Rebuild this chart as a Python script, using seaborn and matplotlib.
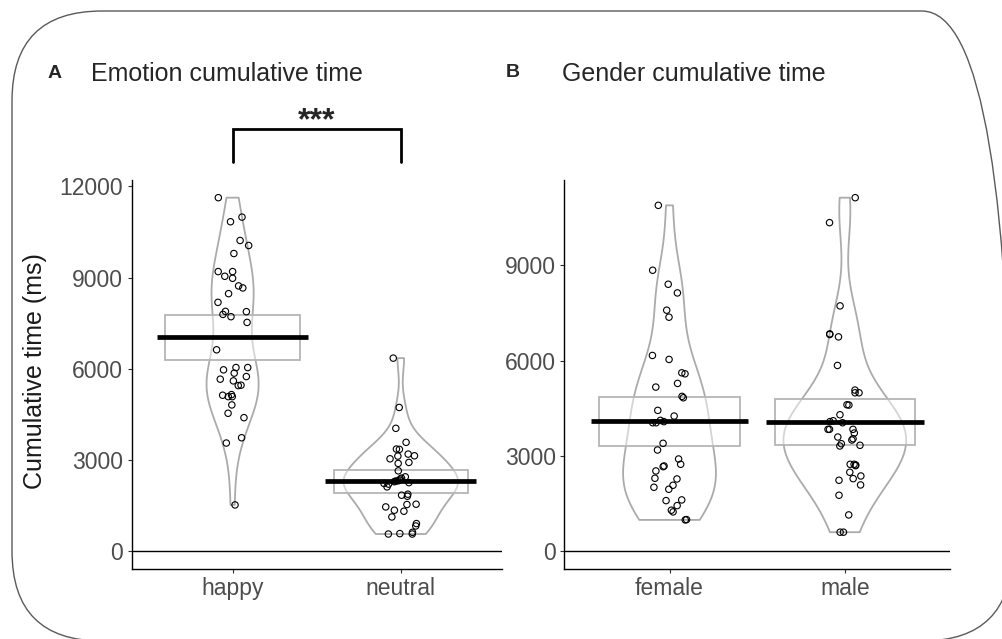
import numpy as np
import pandas as pd
import matplotlib
matplotlib.use("Agg")
import matplotlib.pyplot as plt
import seaborn as sns
from matplotlib.patches import FancyBboxPatch

# ---------------- data (ms) ----------------
emotion_levels = ["happy", "neutral"]
gender_levels = ["female", "male"]

happy = [11628, 10989, 10837, 10221, 10056, 9792, 9198, 9198, 9044, 8978,
         8727, 8661, 8473, 8187, 7890, 7880, 7791, 7715, 7527, 6627,
         6043, 6043, 5968, 5859, 5747, 5661, 5605, 5463, 5450, 5153,
         5133, 5087, 5087, 4814, 4540, 4395, 3735, 3561, 1527]
neutral = [6353, 4731, 4045, 3584, 3363, 3353, 3198, 3132, 3142, 3043,
           2924, 2891, 2647, 2450, 2407, 2318, 2232, 2120, 1879, 1846,
           1813, 1550, 1540, 1461, 1352, 1319, 1131, 913, 834, 626,
           584, 570, 570, 2290, 2340, 2260, 2380, 2210, 2310]
female = [10884, 8842, 8402, 8129, 7586, 7366, 6162, 6037, 5585, 5616,
          5283, 5167, 4831, 4875, 4435, 4256, 4046, 4046, 3399, 3188,
          2905, 2739, 2686, 2664, 2529, 2299, 2277, 2079, 2016, 1953,
          1596, 1618, 1439, 1241, 1294, 989, 999, 4080, 4120]
male = [11125, 10340, 7721, 6841, 6747, 6822, 5848, 5073, 4988, 4988,
        4611, 4602, 4297, 4108, 4046, 3838, 3838, 3838, 3722, 3596,
        3502, 3543, 3336, 3386, 3314, 2695, 2739, 2739, 2717, 2488,
        2371, 2236, 2287, 2089, 1765, 1146, 603, 603, 4080]

yticks_A = [0, 3000, 6000, 9000, 12000]
yticks_B = [0, 3000, 6000, 9000]
ylim_A = (-581, 12209)
ylim_B = (-556, 11681)
bracket_y = (12792, 13880)
sig_label = "***"

df_A = pd.DataFrame({"cond": ["happy"] * len(happy) + ["neutral"] * len(neutral),
                     "time": happy + neutral})
df_B = pd.DataFrame({"cond": ["female"] * len(female) + ["male"] * len(male),
                     "time": female + male})

# ---------------- style ----------------
sns.set_style("white")
plt.rcParams["font.family"] = ["Liberation Sans", "DejaVu Sans"]

VIOLIN_C = "#ABABAB"
BOX_C = "#B5B5B5"
TICK_C = "#4D4D4D"

W, H = 1002, 639
fig = plt.figure(figsize=(W / 100, H / 100), dpi=100)
axA = fig.add_axes([0.1314, 0.1095, 0.3693, 0.6088])
axB = fig.add_axes([0.5632, 0.1095, 0.3849, 0.6088])


def pirate(ax, df, order, width, seed, ylim, yticks):
    sns.violinplot(data=df, x="cond", y="time", order=order, ax=ax,
                   fill=False, color=VIOLIN_C, linewidth=1.3, inner=None,
                   cut=0, width=width, bw_method="silverman", bw_adjust=0.85,
                   density_norm="area", zorder=1)
    stats = df.groupby("cond")["time"].agg(["mean", "std", "count"]).loc[order]
    for i, (m, s, n) in enumerate(stats.itertuples(index=False)):
        half = 1.96 * s / np.sqrt(n)
        ax.bar(i, 2 * half, bottom=m - half, width=0.8,
               facecolor=(1, 1, 1, 0.5), edgecolor=BOX_C, linewidth=1.3, zorder=2)
        ax.hlines(m, i - 0.45, i + 0.45, color="black", linewidth=3.4, zorder=3)
    np.random.seed(seed)
    sns.stripplot(data=df, x="cond", y="time", order=order, ax=ax,
                  jitter=0.1, marker="o", size=4.6, color="none",
                  edgecolor="black", linewidth=0.8, zorder=4)
    ax.axhline(0, color="black", linewidth=1.0, zorder=0)
    ax.set_xlim(-0.6, 1.6)
    ax.set_ylim(*ylim)
    ax.set_yticks(yticks)
    ax.set_yticklabels([str(t) for t in yticks])
    ax.set_xlabel("")
    ax.set_ylabel("")
    for sp in ["top", "right"]:
        ax.spines[sp].set_visible(False)
    for sp in ["left", "bottom"]:
        ax.spines[sp].set_color("black")
        ax.spines[sp].set_linewidth(1.0)
    ax.tick_params(axis="both", which="major", length=3, width=0.8,
                   color="#333333", labelcolor=TICK_C, labelsize=16.5,
                   left=True, bottom=True, direction="out")
    ax.tick_params(axis="y", pad=3)
    ax.tick_params(axis="x", pad=3)


pirate(axA, df_A, emotion_levels, 0.68, 7, ylim_A, yticks_A)
pirate(axB, df_B, gender_levels, 0.70, 11, ylim_B, yticks_B)

axA.set_ylabel("Cumulative time (ms)", fontsize=18, color="#1A1A1A")
axA.yaxis.set_label_coords(-0.229, 0.509)

# significance bracket
axA.plot([0, 0, 1, 1], [bracket_y[0], bracket_y[1], bracket_y[1], bracket_y[0]],
         color="black", linewidth=2.0, clip_on=False, solid_joinstyle="miter")
axA.text(0.5, bracket_y[1] - 230, sig_label, ha="center", va="bottom",
         fontsize=23, fontweight="bold", clip_on=False)

# panel letters and titles (figure pixel positions)
fig.text(48 / W, 1 - 78 / H, "A", fontsize=14, fontweight="bold", ha="left", va="baseline")
fig.text(91 / W, 1 - 81 / H, "Emotion cumulative time", fontsize=18, ha="left", va="baseline")
fig.text(506 / W, 1 - 77 / H, "B", fontsize=14, fontweight="bold", ha="left", va="baseline")
fig.text(562 / W, 1 - 81 / H, "Gender cumulative time", fontsize=18, ha="left", va="baseline")

# rounded outer border in figure fraction (right and bottom edges run past the canvas)
x0, x1, ytop, ybot, rad = 12, 1012, 11, 641, 90
border = FancyBboxPatch((x0 / W, 1 - ybot / H), (x1 - x0) / W, (ybot - ytop) / H,
                        boxstyle=f"round,pad=0,rounding_size={rad / W}",
                        mutation_aspect=W / H,
                        transform=fig.transFigure, facecolor="none",
                        edgecolor="#5A5A5A", linewidth=1.0)
fig.add_artist(border)

fig.savefig("out.png", dpi=100)
